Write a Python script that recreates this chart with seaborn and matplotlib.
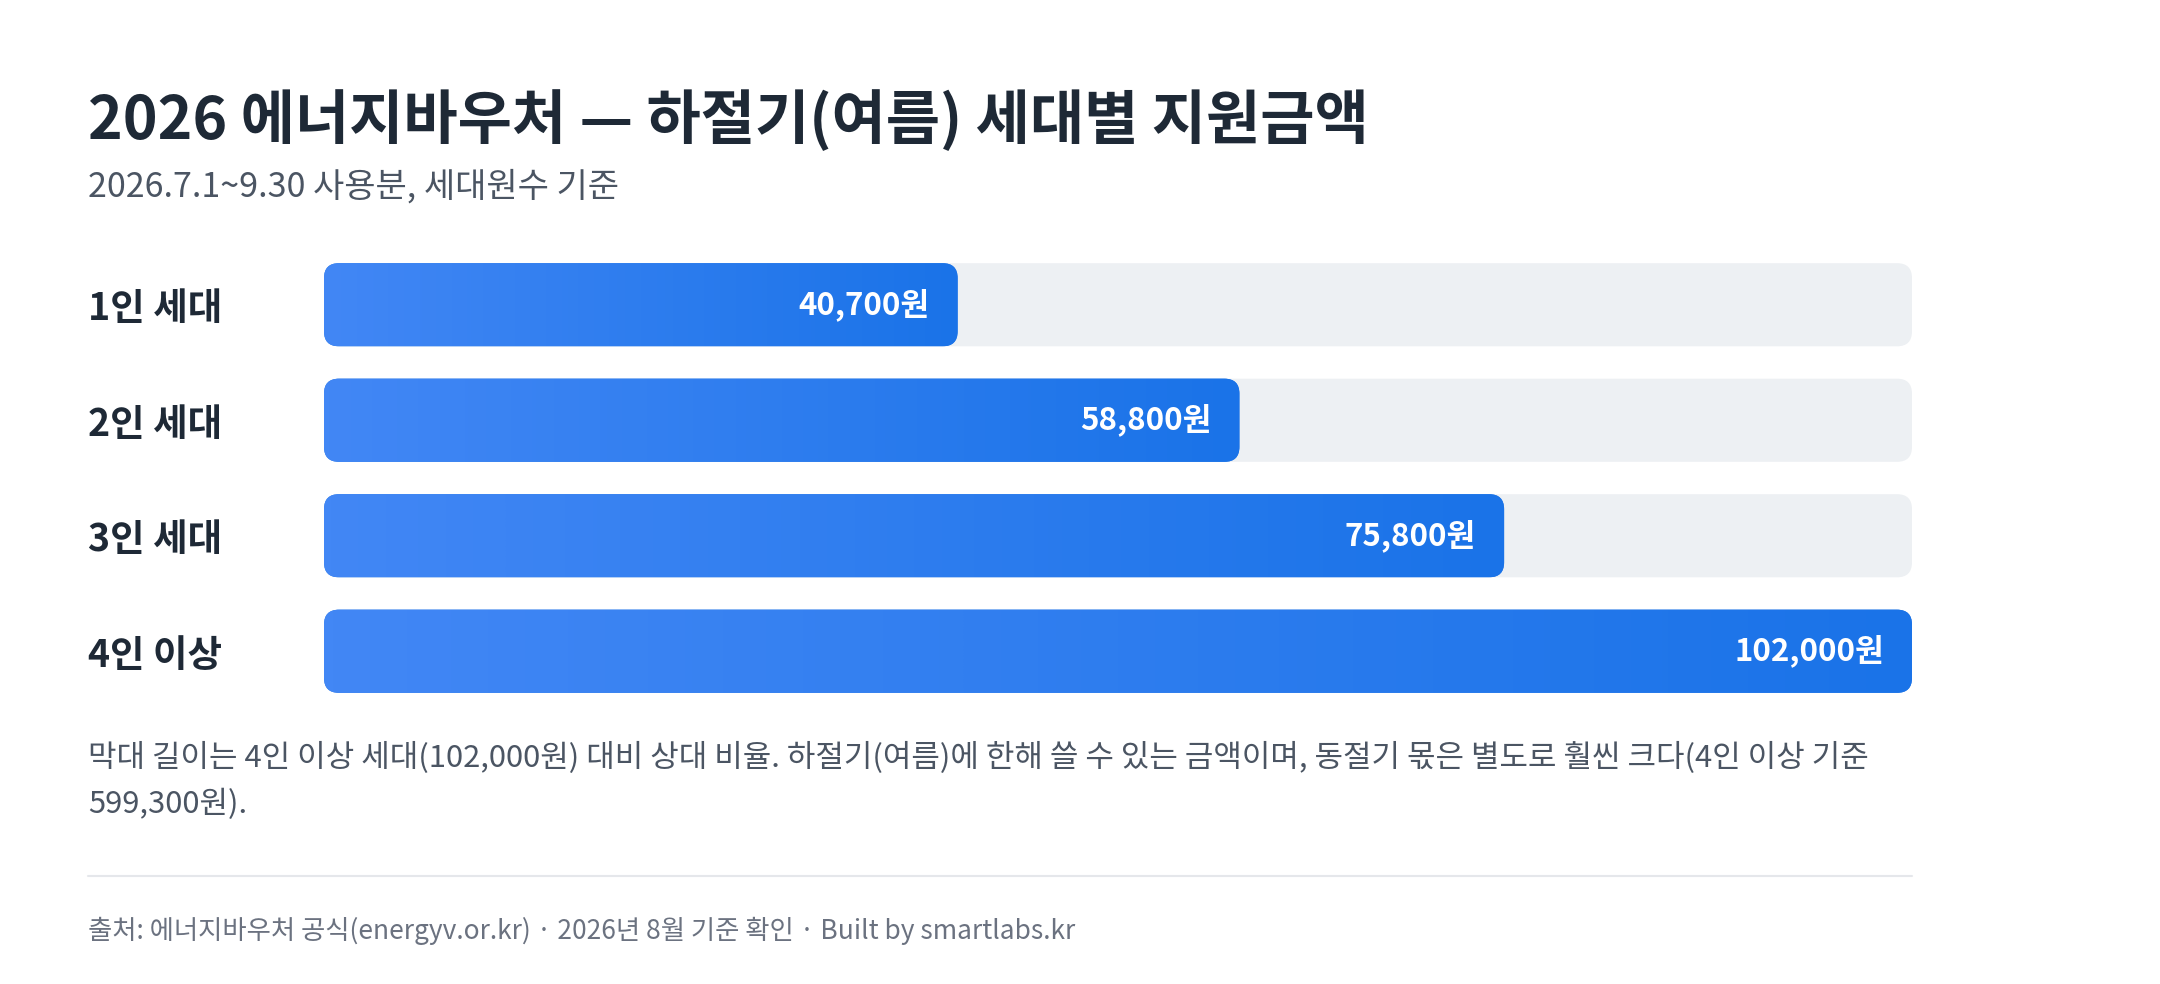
import numpy as np
import matplotlib.pyplot as plt
import seaborn as sns
from matplotlib.patches import FancyBboxPatch
from matplotlib.lines import Line2D
from matplotlib.colors import LinearSegmentedColormap

households = ['1인 세대', '2인 세대', '3인 세대', '4인 이상']
amounts = [40700, 58800, 75800, 102000]
amount_labels = ['40,700원', '58,800원', '75,800원', '102,000원']

title = '2026 에너지바우처 — 하절기(여름) 세대별 지원금액'
subtitle = '2026.7.1~9.30 사용분, 세대원수 기준'
note_lines = [
    '막대 길이는 4인 이상 세대(102,000원) 대비 상대 비율. 하절기(여름)에 한해 쓸 수 있는 금액이며, 동절기 몫은 별도로 훨씬 크다(4인 이상 기준',
    '599,300원).',
]
source = '출처: 에너지바우처 공식(energyv.or.kr) · 2026년 8월 기준 확인 · Built by smartlabs.kr'

W, H = 2160, 984

sns.set_theme(style='white')
plt.rcParams['font.family'] = ['Noto Sans CJK KR', 'DejaVu Sans']

fig = plt.figure(figsize=(W / 100, H / 100), dpi=100)
fig.patch.set_facecolor('white')


def fx(x):
    return x / W


def fy(y):
    return 1 - y / H


# bar area in pixels: x 324..1912, rows centred 305..651
ax = fig.add_axes([fx(324), fy(709), (1912 - 324) / W, (709 - 247) / H])
vmax = max(amounts)
sns.barplot(x=[vmax] * len(households), y=households, color='#edf0f3',
            width=0.72, saturation=1, ax=ax)
n_track = len(ax.patches)
sns.barplot(x=amounts, y=households, color='#2a7de9',
            width=0.72, saturation=1, ax=ax)
ax.set_xlim(0, vmax)
ax.set_ylim(len(households) - 0.5, -0.5)

# swap the square bars for rounded ones, value bars get a gradient
(x0p, y0p), (x1p, y1p) = ax.transData.transform([(0, 0), (1, 1)])
ux = abs(x1p - x0p)
uy = abs(y1p - y0p)
radius = 15
cmap = LinearSegmentedColormap.from_list('bar', ['#4287f5', '#1a73e8'])
grad = np.linspace(0, 1, 256).reshape(1, -1)

for i, p in enumerate(list(ax.patches)):
    x, y, w, h = p.get_x(), p.get_y(), p.get_width(), p.get_height()
    p.remove()
    track = i < n_track
    box = FancyBboxPatch((x, y), w, h,
                         boxstyle=f'round,pad=0,rounding_size={radius / ux}',
                         mutation_aspect=ux / uy,
                         fc='#edf0f3' if track else '#2a7de9', ec='none',
                         zorder=1 if track else 2)
    ax.add_patch(box)
    if not track:
        im = ax.imshow(grad, cmap=cmap, extent=(x, x + w, y + h, y),
                       aspect='auto', interpolation='bicubic', zorder=3)
        im.set_clip_path(box)

ax.set_xlim(0, vmax)
ax.set_ylim(len(households) - 0.5, -0.5)

for i, (v, lab) in enumerate(zip(amounts, amount_labels)):
    ax.annotate(lab, (v, i), xytext=(-28, 0), textcoords='offset pixels',
                ha='right', va='center', color='white', fontsize=22.5,
                fontweight='bold', zorder=5)

ax.set_yticks(range(len(households)))
ax.set_yticklabels(households, ha='left', fontsize=27, fontweight='bold',
                   color='#1e2936')
ax.tick_params(axis='y', length=0, pad=(324 - 88) * 0.72)
ax.set_xticks([])
ax.set_xlabel('')
ax.set_ylabel('')
sns.despine(ax=ax, left=True, bottom=True)

fig.text(fx(88), fy(121), title, fontsize=42.5, fontweight='bold',
         color='#1e2936', ha='left', va='center')
fig.text(fx(88), fy(187), subtitle, fontsize=24.5, color='#4b5563',
         ha='left', va='center')
fig.text(fx(88), fy(758), note_lines[0], fontsize=22.3, color='#4b5563',
         ha='left', va='center')
fig.text(fx(88), fy(804), note_lines[1], fontsize=22.3, color='#4b5563',
         ha='left', va='center')
fig.add_artist(Line2D([fx(88), fx(1912)], [fy(876), fy(876)],
                      color='#e5e7eb', lw=1.5))
fig.text(fx(88), fy(931), source, fontsize=19, color='#6b7280',
         ha='left', va='center')

fig.savefig('out.png', dpi=100, facecolor='white')
